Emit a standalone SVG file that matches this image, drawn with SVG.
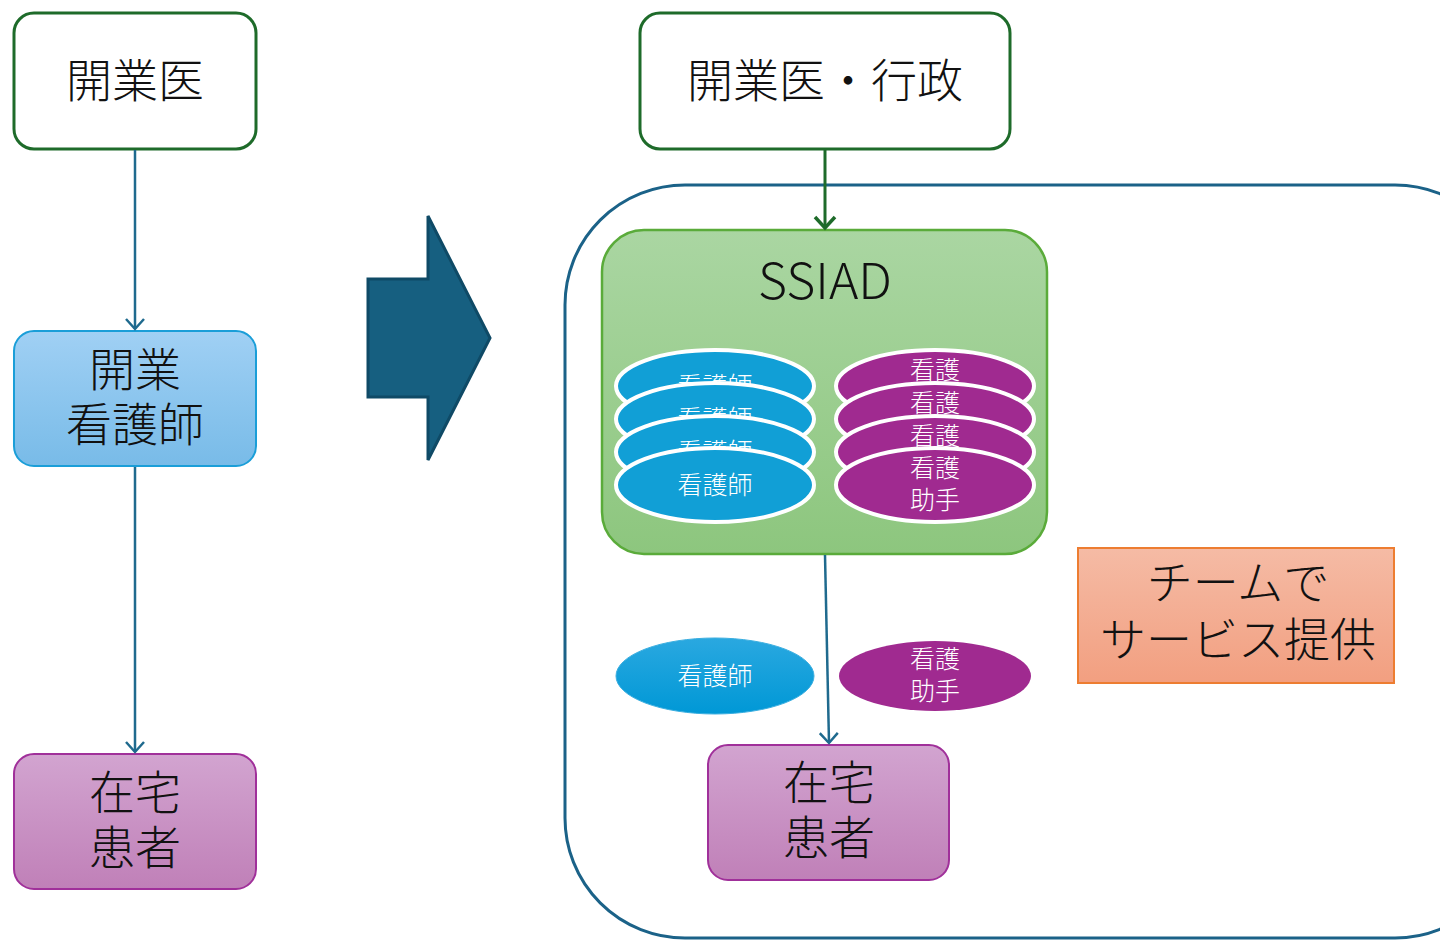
<svg xmlns="http://www.w3.org/2000/svg" width="1440" height="941" viewBox="0 0 1440 941">
<defs>
<linearGradient id="gBlue" x1="0" y1="0" x2="0" y2="1"><stop offset="0" stop-color="#a0d0f4"/><stop offset="1" stop-color="#78bbe8"/></linearGradient>
<linearGradient id="gPurple" x1="0" y1="0" x2="0" y2="1"><stop offset="0" stop-color="#d2a4d0"/><stop offset="1" stop-color="#c080b8"/></linearGradient>
<linearGradient id="gGreen" x1="0" y1="0" x2="0" y2="1"><stop offset="0" stop-color="#aad6a2"/><stop offset="1" stop-color="#8dc67e"/></linearGradient>
<linearGradient id="gOrange" x1="0" y1="0" x2="0" y2="1"><stop offset="0" stop-color="#f5bba5"/><stop offset="1" stop-color="#f29f80"/></linearGradient>
<linearGradient id="gEll" x1="0" y1="0" x2="0" y2="1"><stop offset="0" stop-color="#2aa8e0"/><stop offset="1" stop-color="#0098d6"/></linearGradient>
<marker id="arrB" viewBox="0 0 20 20" refX="18" refY="10" markerWidth="20" markerHeight="20" markerUnits="userSpaceOnUse" orient="auto">
<path d="M8,1 L18,10 L8,19" fill="none" stroke="#1f6a8e" stroke-width="2.5"/></marker>
<marker id="arrG" viewBox="0 0 24 24" refX="21" refY="12" markerWidth="24" markerHeight="24" markerUnits="userSpaceOnUse" orient="auto">
<path d="M10,2 L21,12 L10,22" fill="none" stroke="#1e6b2a" stroke-width="3.5"/></marker>
</defs>
<style>
text{font-family:"Noto Sans CJK JP","Noto Sans",sans-serif;text-anchor:middle}
.big{font-size:46px;fill:#111;font-weight:300}
.sm{font-size:25px;fill:#ffffff;font-weight:300}
.boxG{fill:#ffffff;stroke:#1e6b2a;stroke-width:3}
.boxB{fill:url(#gBlue);stroke:#1a9ed8;stroke-width:2}
.boxP{fill:url(#gPurple);stroke:#a0309a;stroke-width:2}
.ellB{fill:#119fd6;stroke:#ffffff;stroke-width:4}
.ellP{fill:#a02a90;stroke:#ffffff;stroke-width:4}
.conB{stroke:#1f6a8e;stroke-width:2.5;fill:none}
</style>
<rect width="1440" height="941" fill="#ffffff"/>

<g id="container">
<rect x="565" y="185" width="950" height="753" rx="120" ry="120" fill="none" stroke="#1b6288" stroke-width="3"/>
</g>

<g id="bigArrow">
<polygon points="368,279 428,279 428,216 490,338 428,460 428,397 368,397" fill="#165f80" stroke="#0f4a66" stroke-width="3"/>
</g>

<g id="n_kaigyoui">
<rect class="boxG" x="14" y="13" width="242" height="136" rx="20"/>
<text class="big" x="135" y="97">開業医</text>
</g>
<g id="n_kaigyokango">
<rect class="boxB" x="14" y="331" width="242" height="135" rx="20"/>
<text class="big" x="135" y="386">開業</text>
<text class="big" x="135" y="441">看護師</text>
</g>
<g id="n_zaitaku1">
<rect class="boxP" x="14" y="754" width="242" height="135" rx="20"/>
<text class="big" x="135" y="809">在宅</text>
<text class="big" x="135" y="864">患者</text>
</g>

<g id="n_kaigyoui_gyosei">
<rect class="boxG" x="640" y="13" width="370" height="136" rx="20"/>
<text class="big" x="825" y="97">開業医・行政</text>
</g>

<g id="n_ssiad">
<rect x="602" y="230" width="445" height="324" rx="42" fill="url(#gGreen)" stroke="#5aab3a" stroke-width="2.5"/>
<text class="big" x="825" y="299" style="font-size:50px">SSIAD</text>
<g id="stackNurse">
<ellipse class="ellB" cx="715" cy="386" rx="99" ry="36"/>
<text class="sm" x="715" y="395">看護師</text>
<ellipse class="ellB" cx="715" cy="419" rx="99" ry="36"/>
<text class="sm" x="715" y="428">看護師</text>
<ellipse class="ellB" cx="715" cy="452" rx="99" ry="36"/>
<text class="sm" x="715" y="461">看護師</text>
<ellipse class="ellB" cx="715" cy="485" rx="99" ry="37"/>
<text class="sm" x="715" y="494">看護師</text>
</g>
<g id="stackAide">
<ellipse class="ellP" cx="935" cy="386" rx="99" ry="36"/>
<text class="sm" x="935" y="379">看護</text>
<text class="sm" x="935" y="411">助手</text>
<ellipse class="ellP" cx="935" cy="419" rx="99" ry="36"/>
<text class="sm" x="935" y="412">看護</text>
<text class="sm" x="935" y="444">助手</text>
<ellipse class="ellP" cx="935" cy="452" rx="99" ry="36"/>
<text class="sm" x="935" y="445">看護</text>
<text class="sm" x="935" y="477">助手</text>
<ellipse class="ellP" cx="935" cy="485" rx="99" ry="37"/>
<text class="sm" x="935" y="477">看護</text>
<text class="sm" x="935" y="509">助手</text>
</g>
</g>

<g id="n_nurse2">
<ellipse cx="715" cy="676" rx="99" ry="38" fill="url(#gEll)" stroke="#3aaee0" stroke-width="1"/>
<text class="sm" x="715" y="685">看護師</text>
</g>
<g id="n_aide2">
<ellipse cx="935" cy="676" rx="96" ry="35" fill="#a02a90"/>
<text class="sm" x="935" y="668">看護</text>
<text class="sm" x="935" y="700">助手</text>
</g>

<g id="n_zaitaku2">
<rect class="boxP" x="708" y="745" width="241" height="135" rx="20"/>
<text class="big" x="829" y="799">在宅</text>
<text class="big" x="829" y="854">患者</text>
</g>

<g id="n_team">
<rect x="1078" y="548" width="316" height="135" fill="url(#gOrange)" stroke="#ed7d31" stroke-width="2"/>
<text class="big" x="1238" y="599">チームで</text>
<text class="big" x="1238" y="656">サービス提供</text>
</g>

<g id="connectors">
<line class="conB" x1="135" y1="150" x2="135" y2="329" marker-end="url(#arrB)"/>
<line class="conB" x1="135" y1="467" x2="135" y2="752" marker-end="url(#arrB)"/>
<line x1="825" y1="150" x2="825" y2="228" stroke="#1e6b2a" stroke-width="3" marker-end="url(#arrG)"/>
<line class="conB" x1="825" y1="555" x2="829" y2="743" marker-end="url(#arrB)"/>
</g>
</svg>
